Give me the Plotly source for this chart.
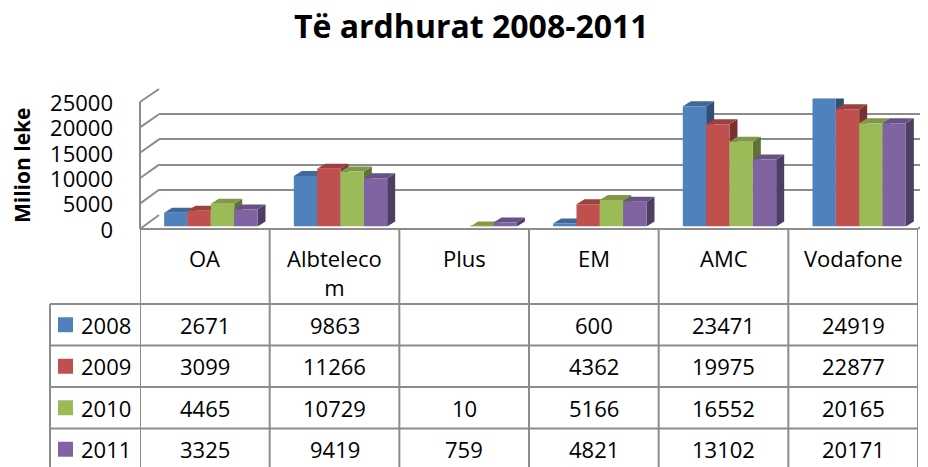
import plotly.graph_objects as go

# ---------------- data ----------------
title_text = "Të ardhurat 2008-2011"
y_title = "Milion leke"
categories = ["OA", "Albtelecom", "Plus", "EM", "AMC", "Vodafone"]
years = ["2008", "2009", "2010", "2011"]
v2008 = [2671, 9863, None, 600, 23471, 24919]
v2009 = [3099, 11266, None, 4362, 19975, 22877]
v2010 = [4465, 10729, 10, 5166, 16552, 20165]
v2011 = [3325, 9419, 759, 4821, 13102, 20171]
y_ticks = [0, 5000, 10000, 15000, 20000, 25000]
y_tick_text = ["0", "5000", "10000", "15000", "20000", "25000"]
colors = ["#4F81BD", "#C0504D", "#9BBB59", "#8064A2"]
series = [v2008, v2009, v2010, v2011]

# ---------------- geometry (pixels of the final picture) ----------------
W, H = 928, 467
PAGE_OFF = 8          # page body margin offset of the plot div
FONT = "Open Sans"
GRID = "#8c8c8c"
YMAX = 25000

PLOT_L, PLOT_R = 140, 918          # front floor edge
BACK_L = 159                        # back wall left
FRONT_Y0, FRONT_YTOP = 230, 103     # front scale (labels)
BACK_Y0, BACK_YTOP = 215, 89        # back wall scale (grid)
BAR_SHIFT = 6
BAR_Y0, BAR_YTOP = 226.5, 98.5
HEAD_TOP, HEAD_BOT = 229, 304
ROW_H = 41.5
ROWHEAD_L = 50


def fx(px):
    return (px - PAGE_OFF) / W


def fy(py):
    return 1 - (py - PAGE_OFF) / H


def shade(hexc, f):
    h = hexc.lstrip("#")
    r, g, b = (int(h[i:i + 2], 16) for i in (0, 2, 4))
    return "rgb(%d,%d,%d)" % (r * f, g * f, b * f)


def wrap(label, n=9):
    return label if len(label) <= n else label[:n] + "<br>" + label[n:]


fig = go.Figure()

# subplot xy : back wall grid
fig.add_trace(go.Scatter(x=[0], y=[0], xaxis="x", yaxis="y", mode="markers",
                         marker=dict(opacity=0), hoverinfo="skip", showlegend=False))
# subplot x2y2 : bars (front faces)
bar_w = 0.18
offsets = [-2 * bar_w + bar_w * j for j in range(4)]
for j, (yr, vals, col) in enumerate(zip(years, series, colors)):
    fig.add_trace(go.Bar(x=categories, y=vals, name=yr, xaxis="x2", yaxis="y2",
                         width=bar_w, offset=offsets[j], marker=dict(color=col, line=dict(width=0)),
                         showlegend=False))
# subplot x3y3 : value labels / table axis
fig.add_trace(go.Scatter(x=categories, y=[None] * len(categories), xaxis="x3", yaxis="y3",
                         mode="markers", hoverinfo="skip", showlegend=False))

shapes = []
annotations = []

# 3D faces for bars
cat_px = (PLOT_R - PLOT_L) / len(categories)
ddx = 8 / cat_px
ddy = 5 * YMAX / (BAR_Y0 - BAR_YTOP)
for i in range(len(categories)):
    for j, vals in enumerate(series):
        v = vals[i]
        if v is None:
            continue
        xl = i + offsets[j]
        xr = xl + bar_w
        side = f"M {xr},0 L {xr + ddx},{ddy} L {xr + ddx},{v + ddy} L {xr},{v} Z"
        top = f"M {xl},{v} L {xl + ddx},{v + ddy} L {xr + ddx},{v + ddy} L {xr},{v} Z"
        shapes.append(dict(type="path", path=side, xref="x2", yref="y2", layer="between",
                           fillcolor=shade(colors[j], 0.62), line=dict(width=0)))
        shapes.append(dict(type="path", path=top, xref="x2", yref="y2", layer="between",
                           fillcolor=shade(colors[j], 0.82), line=dict(width=0)))


def front_y(v):
    return FRONT_Y0 - v / YMAX * (FRONT_Y0 - FRONT_YTOP)


def back_y(v):
    return BACK_Y0 - v / YMAX * (BACK_Y0 - BACK_YTOP)


line = dict(color=GRID, width=2)
# left wall diagonals
for t in y_ticks:
    shapes.append(dict(type="line", xref="paper", yref="paper", layer="below",
                       x0=fx(PLOT_L), y0=fy(front_y(t) - 1), x1=fx(BACK_L), y1=fy(back_y(t)), line=line))
# left wall front edge
shapes.append(dict(type="line", xref="paper", yref="paper", layer="below",
                   x0=fx(PLOT_L), y0=fy(HEAD_TOP), x1=fx(PLOT_L), y1=fy(front_y(YMAX) - 1), line=line))
# right floor diagonal
shapes.append(dict(type="line", xref="paper", yref="paper", layer="below",
                   x0=fx(PLOT_R), y0=fy(HEAD_TOP), x1=fx(PLOT_R + (BACK_L - PLOT_L)), y1=fy(back_y(0)),
                   line=line))

# ---------------- data table ----------------
n_rows = len(years)
bottom = HEAD_BOT + ROW_H * n_rows + 10
for k in range(len(categories) + 1):
    shapes.append(dict(type="line", xref="x3", yref="paper", x0=k - 0.5, x1=k - 0.5,
                       y0=fy(HEAD_TOP), y1=fy(bottom), line=line))
shapes.append(dict(type="line", xref="paper", yref="paper", x0=fx(ROWHEAD_L), x1=fx(ROWHEAD_L),
                   y0=fy(HEAD_BOT), y1=fy(bottom), line=line))
shapes.append(dict(type="line", xref="paper", yref="paper", x0=fx(PLOT_L), x1=fx(PLOT_R),
                   y0=fy(HEAD_TOP), y1=fy(HEAD_TOP), line=line))
for r in range(n_rows):
    yy = HEAD_BOT + r * ROW_H
    shapes.append(dict(type="line", xref="paper", yref="paper", x0=fx(ROWHEAD_L), x1=fx(PLOT_R),
                       y0=fy(yy), y1=fy(yy), line=line))

tfont = dict(family=FONT, size=22, color="#000000")
for c in categories:
    annotations.append(dict(x=c, xref="x3", y=fy(HEAD_TOP + 12), yref="paper", text=wrap(c),
                            showarrow=False, yanchor="top", xanchor="center", font=tfont))
for r, (yr, vals, col) in enumerate(zip(years, series, colors)):
    yc = HEAD_BOT + r * ROW_H + ROW_H / 2
    shapes.append(dict(type="rect", xref="paper", yref="paper", x0=fx(58), x1=fx(73),
                       y0=fy(yc - 7.5), y1=fy(yc + 7.5), fillcolor=col, line=dict(width=0)))
    annotations.append(dict(x=fx(79), xref="paper", y=fy(yc), yref="paper", text=yr,
                            showarrow=False, xanchor="left", yanchor="middle", font=tfont))
    for c, v in zip(categories, vals):
        annotations.append(dict(x=c, xref="x3", y=fy(yc), yref="paper",
                                text="" if v is None else str(v),
                                showarrow=False, xanchor="center", yanchor="middle", font=tfont))

# titles
annotations.append(dict(x=fx(471), y=fy(25), xref="paper", yref="paper", text=f"<b>{title_text}</b>",
                        showarrow=False, xanchor="center", yanchor="middle", height=32,
                        font=dict(family=FONT, size=32, color="#000000")))
annotations.append(dict(x=fx(22), y=fy(165), xref="paper", yref="paper", text=f"<b>{y_title}</b>",
                        showarrow=False, textangle=-90, xanchor="center", yanchor="middle",
                        font=dict(family=FONT, size=21, color="#000000")))

fig.update_layout(
    width=W, height=H, margin=dict(l=0, r=0, t=0, b=0, pad=0, autoexpand=False),
    paper_bgcolor="white", plot_bgcolor="rgba(0,0,0,0)",
    barmode="overlay", showlegend=False,
    font=dict(family=FONT, color="#000000"),
    xaxis=dict(domain=[fx(BACK_L), 1], range=[0, 1], visible=False),
    yaxis=dict(domain=[fy(BACK_Y0), fy(BACK_YTOP)], range=[0, YMAX], tickvals=y_ticks,
               showticklabels=False, showgrid=True, gridcolor=GRID, gridwidth=2,
               zeroline=False, showline=False, ticks="", automargin=False),
    xaxis2=dict(domain=[fx(PLOT_L + BAR_SHIFT), fx(PLOT_R + BAR_SHIFT)], range=[-0.5, 5.5],
                type="category", categoryarray=categories, visible=False, anchor="y2"),
    yaxis2=dict(domain=[fy(BAR_Y0), fy(BAR_YTOP)], range=[0, YMAX], visible=False, anchor="x2"),
    xaxis3=dict(domain=[fx(PLOT_L), fx(PLOT_R)], range=[-0.5, 5.5], type="category",
                categoryarray=categories, visible=False, anchor="y3"),
    yaxis3=dict(domain=[fy(FRONT_Y0), fy(FRONT_YTOP)], range=[0, YMAX], tickvals=y_ticks,
                ticktext=y_tick_text, automargin=False,
                showgrid=False, zeroline=False, showline=False, ticks="", anchor="x3",
                ticklabelstandoff=26, tickfont=dict(family=FONT, size=22, color="#000000")),
    shapes=shapes, annotations=annotations,
)

fig.write_html("out.html")
